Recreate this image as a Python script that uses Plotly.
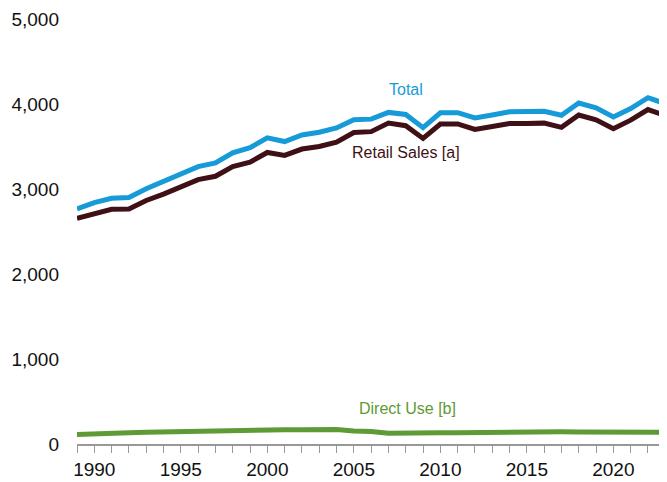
import plotly.graph_objects as go

years = list(range(1989, 2024))
retail_sales = [2655, 2715, 2762, 2765, 2865, 2940, 3025, 3110, 3150, 3265,
                3315, 3430, 3395, 3470, 3500, 3550, 3665, 3675, 3775, 3745,
                3595, 3765, 3765, 3700, 3735, 3770, 3770, 3775, 3725, 3870,
                3815, 3710, 3810, 3935, 3865]
direct_use = [112, 122, 126, 132, 137, 142, 148, 150, 156, 163,
              171, 172, 168, 169, 170, 170, 152, 147, 126, 132,
              127, 132, 133, 137, 136, 139, 141, 139, 143, 142,
              139, 137, 137, 139, 139]
total = [2767, 2840, 2890, 2899, 3004, 3086, 3176, 3263, 3306, 3426,
         3486, 3601, 3558, 3636, 3668, 3718, 3815, 3822, 3901, 3877,
         3722, 3897, 3898, 3837, 3871, 3909, 3911, 3914, 3868, 4012,
         3954, 3847, 3947, 4074, 4004]

c_total = "#169bd8"
c_retail = "#3f1015"
c_direct = "#5e9a36"

fig = go.Figure()
fig.add_trace(go.Scatter(x=years, y=direct_use, mode="lines",
                         line=dict(color=c_direct, width=5), name="Direct Use [b]"))
fig.add_trace(go.Scatter(x=years, y=retail_sales, mode="lines",
                         line=dict(color=c_retail, width=5), name="Retail Sales [a]"))
fig.add_trace(go.Scatter(x=years, y=total, mode="lines",
                         line=dict(color=c_total, width=5), name="Total"))

font_family = "Liberation Sans, Arial, sans-serif"
ann = [
    ("Total", 2008.0, 4165, c_total),
    ("Retail Sales [a]", 2008.0, 3424, c_retail),
    ("Direct Use [b]", 2008.1, 412, c_direct),
]
for text, x, y, col in ann:
    fig.add_annotation(x=x, y=y, text=text, showarrow=False,
                       font=dict(family=font_family, size=16, color=col),
                       xanchor="center", yanchor="middle")

fig.update_layout(
    width=659, height=474,
    margin=dict(l=69, r=0, t=11, b=38, autoexpand=False),
    paper_bgcolor="white", plot_bgcolor="white",
    showlegend=False,
    font=dict(family=font_family, size=19, color="#111111"),
    xaxis=dict(range=[1989, 2023.1], showgrid=False, zeroline=False,
               showline=True, linecolor="#999999", linewidth=1.5,
               tickmode="linear", tick0=1990, dtick=5,
               ticks="outside", ticklen=7, tickcolor="#999999", tickwidth=1,
               minor=dict(tickmode="linear", tick0=1989, dtick=1, ticks="outside",
                          ticklen=7, tickcolor="#999999", tickwidth=1),
               tickfont=dict(size=19, color="#111111")),
    yaxis=dict(range=[0, 5000], showgrid=False, zeroline=False, showline=False,
               tickmode="linear", tick0=0, dtick=1000, tickformat=",",
               ticks="", ticklabelstandoff=17,
               tickfont=dict(size=19, color="#111111")),
)

fig.write_html("out.html")
